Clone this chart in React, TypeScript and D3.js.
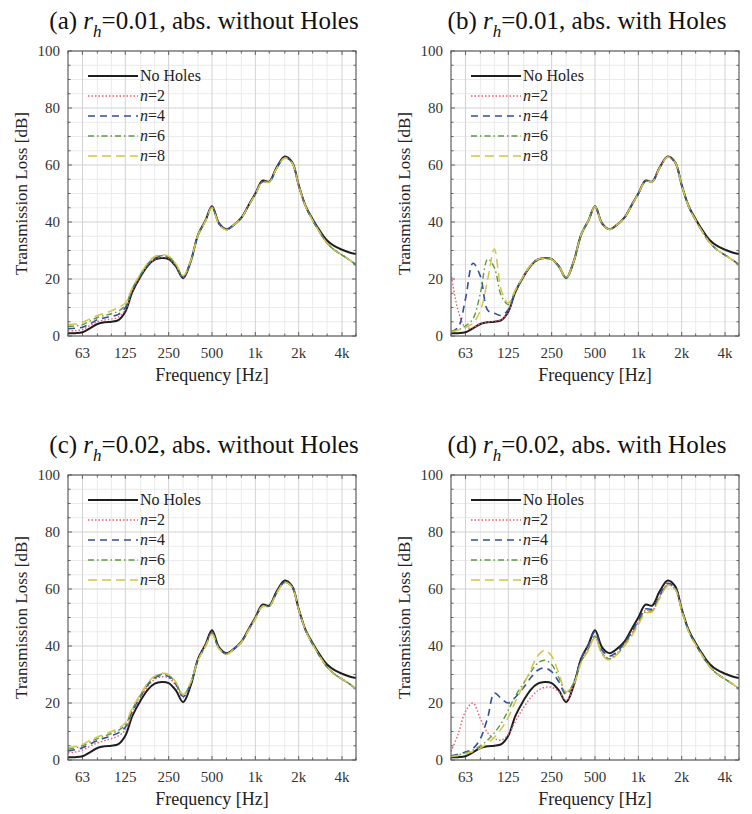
import React, { useEffect, useRef } from "react";
import * as d3 from "d3";

// 1/6-octave frequencies shared by every series
const freqs = [
  50, 56, 63, 71, 80, 90, 100, 112, 125, 140, 160, 180, 200, 224, 250, 280, 315, 355, 400, 450,
  500, 560, 630, 710, 800, 900, 1000, 1120, 1250, 1400, 1600, 1800, 2000, 2240, 2500, 2800, 3150,
  3550, 4000, 4500, 5000,
];

// reference curve, same in all four panels
const noHoles = [
  1.0, 1.0, 1.3, 2.7, 4.2, 4.8, 5.0, 5.6, 8.5, 15.5, 21.0, 24.8, 26.8, 27.4, 27.0, 24.5, 20.3, 26.0,
  35.5, 40.5, 45.5, 39.5, 37.5, 39.0, 41.5, 46.0, 50.0, 54.5, 54.2, 59.0, 63.0, 61.0, 53.0, 45.5, 41.0,
  37.0, 33.5, 31.5, 30.3, 29.3, 28.8,
];

// (a) r_h = 0.01, without holes
const aN2 = [
  1.8, 1.9, 2.3, 3.6, 5.0, 5.6, 6.0, 6.6, 9.2, 16.0, 21.3, 25.0, 27.0, 27.6, 27.2, 24.8, 20.6, 26.0,
  35.5, 40.5, 45.3, 39.3, 37.4, 39.0, 41.5, 45.8, 49.8, 54.2, 54.0, 58.7, 62.6, 60.8, 52.8, 45.3, 40.6,
  36.4, 32.6, 30.1, 28.4, 26.7, 25.0,
];
const aN4 = [
  2.6, 2.7, 3.1, 4.3, 5.7, 6.4, 6.9, 7.6, 10.0, 16.3, 21.5, 25.2, 27.3, 27.9, 27.5, 25.0, 20.8, 26.1,
  35.5, 40.4, 45.2, 39.3, 37.3, 39.0, 41.4, 45.8, 49.8, 54.1, 54.0, 58.7, 62.6, 60.8, 52.8, 45.3, 40.6,
  36.4, 32.6, 30.1, 28.4, 26.7, 25.0,
];
const aN6 = [
  3.4, 3.5, 4.0, 5.2, 6.5, 7.2, 7.8, 8.7, 10.8, 16.6, 21.7, 25.5, 27.6, 28.2, 27.8, 25.2, 21.0, 26.2,
  35.4, 40.3, 45.1, 39.2, 37.3, 39.0, 41.4, 45.7, 49.7, 54.0, 54.0, 58.6, 62.5, 60.7, 52.8, 45.3, 40.6,
  36.4, 32.6, 30.1, 28.4, 26.7, 25.0,
];
const aN8 = [
  4.0, 4.2, 4.8, 6.0, 7.2, 8.0, 8.8, 10.0, 11.6, 17.0, 22.0, 25.8, 27.9, 28.5, 28.0, 25.4, 21.2, 26.3,
  35.4, 40.2, 45.0, 39.2, 37.2, 39.0, 41.4, 45.7, 49.7, 54.0, 54.0, 58.6, 62.5, 60.7, 52.8, 45.3, 40.6,
  36.4, 32.6, 30.1, 28.4, 26.7, 25.0,
];

// (b) r_h = 0.01, with holes
const bN2 = [
  22.0, 9.0, 3.0, 3.0, 4.3, 4.9, 5.2, 5.8, 8.7, 15.6, 21.0, 24.8, 26.8, 27.3, 26.9, 24.5, 20.4, 26.0,
  35.5, 40.5, 45.4, 39.4, 37.4, 39.0, 41.5, 45.9, 49.9, 54.3, 54.1, 58.8, 62.8, 60.9, 52.9, 45.3, 40.6,
  36.4, 32.6, 30.1, 28.4, 26.7, 25.0,
];
const bN4 = [
  1.5, 3.0, 13.0, 25.5, 21.0, 9.0, 8.0, 7.2, 9.3, 15.8, 21.1, 24.9, 26.9, 27.3, 26.9, 24.5, 20.4, 26.0,
  35.5, 40.5, 45.4, 39.4, 37.4, 39.0, 41.5, 45.9, 49.9, 54.3, 54.1, 58.8, 62.8, 60.9, 52.9, 45.3, 40.6,
  36.4, 32.6, 30.1, 28.4, 26.7, 25.0,
];
const bN6 = [
  1.5, 2.2, 3.5, 6.0, 15.0, 27.0, 24.0, 14.0, 11.0, 16.0, 21.2, 25.0, 26.9, 27.3, 26.9, 24.5, 20.4, 26.0,
  35.5, 40.5, 45.4, 39.4, 37.4, 39.0, 41.5, 45.9, 49.9, 54.3, 54.1, 58.8, 62.8, 60.9, 52.9, 45.3, 40.6,
  36.4, 32.6, 30.1, 28.4, 26.7, 25.0,
];
const bN8 = [
  1.5, 2.0, 3.0, 4.5, 9.0, 20.0, 30.5, 16.0, 11.5, 16.2, 21.2, 25.0, 26.9, 27.3, 26.9, 24.5, 20.4, 26.0,
  35.5, 40.5, 45.4, 39.4, 37.4, 39.0, 41.5, 45.9, 49.9, 54.3, 54.1, 58.8, 62.8, 60.9, 52.9, 45.3, 40.6,
  36.4, 32.6, 30.1, 28.4, 26.7, 25.0,
];

// (c) r_h = 0.02, without holes
const cN2 = [
  2.5, 2.8, 3.5, 4.8, 6.0, 6.8, 7.5, 8.5, 10.5, 16.5, 22.0, 26.0, 28.3, 29.2, 28.8, 26.2, 21.8, 26.5,
  35.3, 40.2, 44.8, 39.2, 37.3, 39.0, 41.4, 45.8, 49.8, 54.1, 54.0, 58.6, 62.5, 60.8, 52.8, 45.3, 40.6,
  36.4, 32.6, 30.1, 28.4, 26.7, 25.0,
];
const cN4 = [
  3.2, 3.6, 4.3, 5.6, 6.8, 7.7, 8.5, 9.5, 11.5, 17.2, 22.5, 26.5, 28.8, 29.7, 29.3, 26.7, 22.3, 26.8,
  35.2, 40.0, 44.6, 39.1, 37.2, 39.0, 41.4, 45.7, 49.7, 54.0, 54.0, 58.5, 62.4, 60.7, 52.8, 45.3, 40.6,
  36.4, 32.6, 30.1, 28.4, 26.7, 25.0,
];
const cN6 = [
  3.8, 4.2, 5.0, 6.3, 7.5, 8.4, 9.3, 10.4, 12.3, 17.8, 22.9, 26.9, 29.2, 30.1, 29.7, 27.1, 22.7, 27.0,
  35.1, 39.9, 44.4, 39.0, 37.2, 38.9, 41.3, 45.7, 49.7, 54.0, 53.9, 58.4, 62.3, 60.6, 52.7, 45.3, 40.6,
  36.4, 32.6, 30.1, 28.4, 26.7, 25.0,
];
const cN8 = [
  4.3, 4.7, 5.5, 6.9, 8.1, 9.0, 10.0, 11.2, 13.0, 18.3, 23.3, 27.2, 29.5, 30.4, 30.0, 27.4, 23.0, 27.2,
  35.0, 39.8, 44.2, 39.0, 37.1, 38.9, 41.3, 45.6, 49.6, 53.9, 53.9, 58.4, 62.3, 60.6, 52.7, 45.3, 40.6,
  36.4, 32.6, 30.1, 28.4, 26.7, 25.0,
];

// (d) r_h = 0.02, with holes
const dN2 = [
  3.0, 9.0, 17.0, 20.0, 14.5, 9.5, 7.5, 7.0, 9.0, 13.5, 18.5, 22.0, 24.3, 25.5, 25.5, 24.0, 21.0, 25.5,
  34.5, 39.0, 43.0, 37.5, 35.5, 37.5, 40.5, 44.5, 48.5, 52.5, 52.5, 57.0, 61.5, 60.0, 52.5, 45.0, 40.5,
  36.4, 32.6, 30.1, 28.4, 26.7, 25.0,
];
const dN4 = [
  1.5, 2.0, 2.8, 4.0, 7.5, 15.0, 23.5, 21.5, 20.0, 22.0, 25.5, 29.0, 31.5, 32.3, 31.0, 27.5, 23.0, 27.0,
  35.5, 40.5, 45.0, 38.5, 36.5, 38.0, 41.0, 45.0, 49.0, 53.0, 53.0, 57.5, 62.0, 60.5, 52.8, 45.3, 40.6,
  36.4, 32.6, 30.1, 28.4, 26.7, 25.0,
];
const dN6 = [
  1.2, 1.8, 2.5, 3.5, 5.0, 7.0, 9.5, 13.0, 17.5, 22.5, 27.0, 31.0, 34.0, 35.0, 33.5, 29.0, 23.5, 27.0,
  34.5, 39.0, 43.5, 37.5, 35.5, 37.0, 40.5, 44.0, 48.0, 52.0, 52.5, 57.0, 61.5, 60.0, 52.5, 45.0, 40.5,
  36.4, 32.6, 30.1, 28.4, 26.7, 25.0,
];
const dN8 = [
  1.2, 1.6, 2.2, 3.0, 4.2, 6.0, 8.0, 11.0, 15.0, 20.5, 26.5, 32.0, 36.5, 38.5, 36.5, 30.5, 24.0, 26.5,
  34.0, 38.5, 43.0, 37.0, 35.0, 37.0, 40.0, 43.5, 47.5, 51.5, 52.0, 56.5, 61.0, 59.8, 52.5, 45.0, 40.5,
  36.4, 32.6, 30.1, 28.4, 26.7, 25.0,
];

const xTicks = [63, 125, 250, 500, 1000, 2000, 4000];
const xTickLabels = ["63", "125", "250", "500", "1k", "2k", "4k"];
const thirdOctaves = [
  50, 63, 80, 100, 125, 160, 200, 250, 315, 400, 500, 630, 800, 1000, 1250, 1600, 2000, 2500, 3150,
  4000, 5000,
];
const yTicks = [0, 20, 40, 60, 80, 100];
const legendN = ["2", "4", "6", "8"];

const seriesStyles = [
  { color: "#1e1e1e", width: 2, dash: "" },
  { color: "#ea5a6e", width: 1.4, dash: "1.5,2" },
  { color: "#2f4f9c", width: 1.6, dash: "7,5" },
  { color: "#5a9a40", width: 1.4, dash: "6,3,1.5,3" },
  { color: "#d2c548", width: 1.5, dash: "9,5" },
];

const panels = [
  { tag: "(a)", rh: "0.01", rest: ", abs. without Holes", series: [noHoles, aN2, aN4, aN6, aN8], left: 68, top: 51 },
  { tag: "(b)", rh: "0.01", rest: ", abs. with Holes", series: [noHoles, bN2, bN4, bN6, bN8], left: 451, top: 51 },
  { tag: "(c)", rh: "0.02", rest: ", abs. without Holes", series: [noHoles, cN2, cN4, cN6, cN8], left: 68, top: 475 },
  { tag: "(d)", rh: "0.02", rest: ", abs. with Holes", series: [noHoles, dN2, dN4, dN6, dN8], left: 451, top: 475 },
];

const W = 752;
const H = 814;
const PW = 288;
const PH = 285;
const FONT = '"Liberation Serif", "Times New Roman", "DejaVu Serif", serif';

const App: React.FC = () => {
  const svgRef = useRef<SVGSVGElement>(null);

  useEffect(() => {
    if (!svgRef.current) return;
    const svg = d3.select(svgRef.current);
    svg.selectAll("*").remove();

    const x = d3.scaleLog().domain([50, 5000]).range([0, PW]);
    const y = d3.scaleLinear().domain([0, 100]).range([PH, 0]);
    const line = d3
      .line<number>()
      .x((_, i) => x(freqs[i]))
      .y(d => y(d))
      .curve(d3.curveCatmullRom.alpha(0.5));

    panels.forEach(p => {
      const g = svg.append("g").attr("transform", `translate(${p.left},${p.top})`);

      g.append("rect").attr("width", PW).attr("height", PH).attr("fill", "#fff");

      // minor grid
      g.append("g")
        .selectAll("line")
        .data(thirdOctaves.filter(f => !xTicks.includes(f)))
        .join("line")
        .attr("x1", d => x(d)).attr("x2", d => x(d))
        .attr("y1", 0).attr("y2", PH)
        .attr("stroke", "#e6e6e6").attr("stroke-width", 0.8);
      g.append("g")
        .selectAll("line")
        .data(d3.range(5, 100, 5).filter(v => v % 20 !== 0))
        .join("line")
        .attr("x1", 0).attr("x2", PW)
        .attr("y1", d => y(d)).attr("y2", d => y(d))
        .attr("stroke", "#e6e6e6").attr("stroke-width", 0.8);

      // major grid
      g.append("g")
        .selectAll("line")
        .data(xTicks)
        .join("line")
        .attr("x1", d => x(d)).attr("x2", d => x(d))
        .attr("y1", 0).attr("y2", PH)
        .attr("stroke", "#d2d2d2").attr("stroke-width", 1);
      g.append("g")
        .selectAll("line")
        .data(yTicks)
        .join("line")
        .attr("x1", 0).attr("x2", PW)
        .attr("y1", d => y(d)).attr("y2", d => y(d))
        .attr("stroke", "#d2d2d2").attr("stroke-width", 1);

      // inward ticks on all four sides
      const tk = g.append("g").attr("stroke", "#555").attr("stroke-width", 0.9);
      thirdOctaves.forEach(f => {
        const len = xTicks.includes(f) ? 4 : 2.5;
        tk.append("line").attr("x1", x(f)).attr("x2", x(f)).attr("y1", PH).attr("y2", PH - len);
        tk.append("line").attr("x1", x(f)).attr("x2", x(f)).attr("y1", 0).attr("y2", len);
      });
      d3.range(0, 101, 5).forEach(v => {
        const len = v % 20 === 0 ? 4 : 2.5;
        tk.append("line").attr("x1", 0).attr("x2", len).attr("y1", y(v)).attr("y2", y(v));
        tk.append("line").attr("x1", PW).attr("x2", PW - len).attr("y1", y(v)).attr("y2", y(v));
      });

      // curves, clipped to the plot area
      const clipId = `clip-${p.tag.replace(/[()]/g, "")}`;
      g.append("clipPath").attr("id", clipId)
        .append("rect").attr("width", PW).attr("height", PH);
      const cg = g.append("g").attr("clip-path", `url(#${clipId})`);
      p.series.forEach((vals, i) => {
        const s = seriesStyles[i];
        cg.append("path")
          .datum(vals)
          .attr("fill", "none")
          .attr("stroke", s.color)
          .attr("stroke-width", s.width)
          .attr("stroke-dasharray", s.dash || null)
          .attr("stroke-linejoin", "round")
          .attr("d", line);
      });

      // box
      g.append("rect")
        .attr("width", PW).attr("height", PH)
        .attr("fill", "none").attr("stroke", "#5a5a5a").attr("stroke-width", 1.1);

      // tick labels
      g.append("g")
        .selectAll("text")
        .data(xTicks)
        .join("text")
        .attr("x", d => x(d)).attr("y", PH + 22)
        .attr("text-anchor", "middle")
        .style("font-family", FONT).style("font-size", "15px").attr("fill", "#333")
        .text((_, i) => xTickLabels[i]);
      g.append("g")
        .selectAll("text")
        .data(yTicks)
        .join("text")
        .attr("x", -8).attr("y", d => y(d) + 5)
        .attr("text-anchor", "end")
        .style("font-family", FONT).style("font-size", "15px").attr("fill", "#333")
        .text(d => String(d));

      // axis titles
      g.append("text")
        .attr("x", PW / 2).attr("y", PH + 45)
        .attr("text-anchor", "middle")
        .style("font-family", FONT).style("font-size", "18px").attr("fill", "#222")
        .text("Frequency [Hz]");
      g.append("text")
        .attr("transform", `translate(${-41},${PH / 2}) rotate(-90)`)
        .attr("text-anchor", "middle")
        .style("font-family", FONT).style("font-size", "17px").attr("fill", "#222")
        .text("Transmission Loss [dB]");

      // panel title
      const t = g.append("text")
        .attr("x", PW / 2 - 8).attr("y", -22)
        .attr("text-anchor", "middle")
        .style("font-family", FONT).style("font-size", "25px").attr("fill", "#111");
      t.append("tspan").text(`${p.tag} `);
      t.append("tspan").attr("font-style", "italic").text("r");
      t.append("tspan").attr("font-style", "italic").style("font-size", "17px").attr("dy", 8).text("h");
      t.append("tspan").attr("dy", -8).text(`=${p.rh}${p.rest}`);

      // legend
      const lg = g.append("g").attr("transform", "translate(20,25)");
      seriesStyles.forEach((s, i) => {
        const ly = i * 20;
        lg.append("line")
          .attr("x1", 0).attr("x2", 50).attr("y1", ly).attr("y2", ly)
          .attr("stroke", s.color).attr("stroke-width", s.width)
          .attr("stroke-dasharray", s.dash || null);
        const lt = lg.append("text")
          .attr("x", 52).attr("y", ly + 5)
          .style("font-family", FONT).style("font-size", "16px").attr("fill", "#222");
        if (i === 0) {
          lt.text("No Holes");
        } else {
          lt.append("tspan").attr("font-style", "italic").text("n");
          lt.append("tspan").text(`=${legendN[i - 1]}`);
        }
      });
    });
  }, []);

  return (
    <svg
      ref={svgRef}
      width={W}
      height={H}
      style={{ position: "absolute", left: 0, top: 0, background: "#fff" }}
    />
  );
};

export default App;
